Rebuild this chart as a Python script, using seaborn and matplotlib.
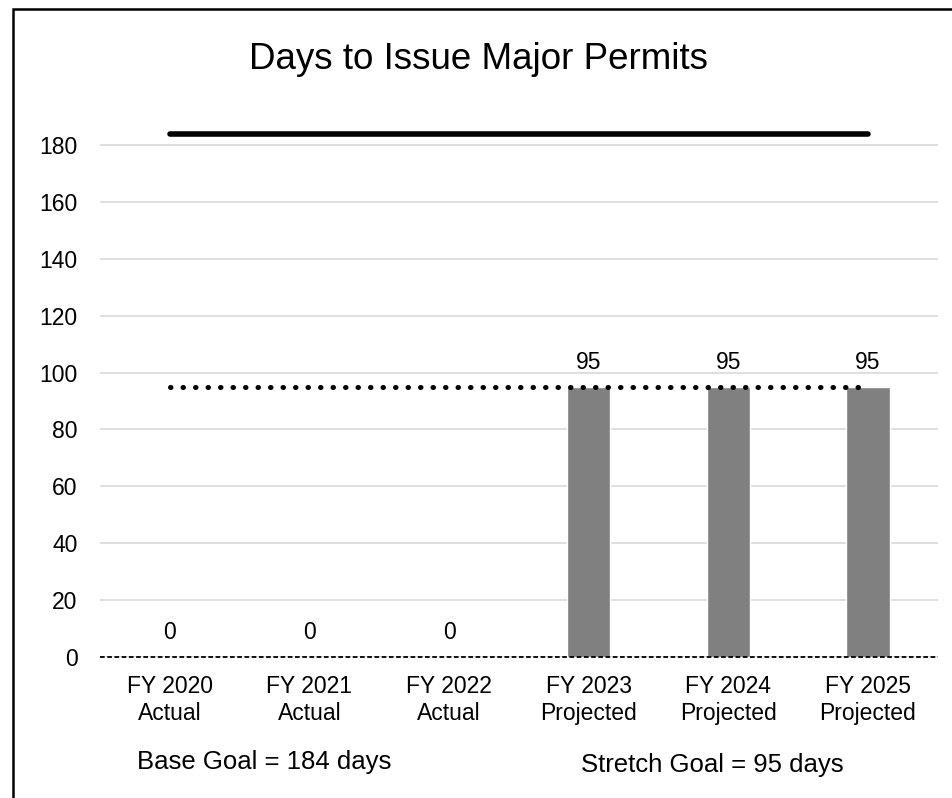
import matplotlib
matplotlib.use('Agg')
import matplotlib.pyplot as plt
import seaborn as sns
import pandas as pd
from matplotlib.patches import Rectangle

# chart data
categories = ['FY 2020\nActual', 'FY 2021\nActual', 'FY 2022\nActual',
              'FY 2023\nProjected', 'FY 2024\nProjected', 'FY 2025\nProjected']
days = [0, 0, 0, 95, 95, 95]
base_goal = [184, 184, 184, 184, 184, 184]
stretch_goal = [95, 95, 95, 95, 95, 95]
y_ticks = [0, 20, 40, 60, 80, 100, 120, 140, 160, 180]

sns.set_style('white')
plt.rcParams['font.family'] = ['Liberation Sans', 'DejaVu Sans']
plt.rcParams['text.color'] = 'black'
plt.rcParams['xtick.color'] = 'black'
plt.rcParams['ytick.color'] = 'black'

df = pd.DataFrame({'Category': categories, 'Days': days})

fig = plt.figure(figsize=(9.52, 7.98), dpi=100)
ax = fig.add_axes([0.105, 0.1767, 0.88, 0.663])

sns.barplot(data=df, x='Category', y='Days', color='#808080', width=0.31,
            saturation=1, ax=ax, zorder=2)

# goal lines
pos = list(range(len(categories)))
ax.plot(pos, base_goal, color='black', lw=4, solid_capstyle='round', zorder=3)
ax.plot(pos, stretch_goal, color='black', lw=3.6, linestyle=(0, (0.1, 2.4)),
        dash_capstyle='round', zorder=3)

# dashed baseline
ax.axhline(0, color='black', lw=1.3, linestyle=(0, (2.6, 1.4)), zorder=4, clip_on=False)

for c in ax.containers:
    ax.bar_label(c, labels=[str(v) for v in days], padding=9, fontsize=16.5)

ax.set_ylim(0, 186)
ax.set_xlim(-0.5, len(categories) - 0.5)
ax.set_yticks(y_ticks)
ax.yaxis.grid(True, color='#d9d9d9', lw=1.2)
ax.set_axisbelow(True)
for s in ax.spines.values():
    s.set_visible(False)
ax.tick_params(axis='both', length=0, labelsize=16.5)
ax.tick_params(axis='x', pad=13)
ax.tick_params(axis='y', pad=16)
ax.set_xlabel('')
ax.set_ylabel('')

fig.text(0.503, 0.925, 'Days to Issue Major Permits', ha='center', va='center', fontsize=26.5)
fig.text(0.278, 0.045, 'Base Goal = 184 days', ha='center', va='center', fontsize=18.5)
fig.text(0.748, 0.041, 'Stretch Goal = 95 days', ha='center', va='center', fontsize=18.5)

# outer border
fig.patches.append(Rectangle((0.0137, -0.1), 1.1, 1.089, transform=fig.transFigure,
                             fill=False, edgecolor='black', lw=1.8))

fig.savefig('out.png', dpi=100)
